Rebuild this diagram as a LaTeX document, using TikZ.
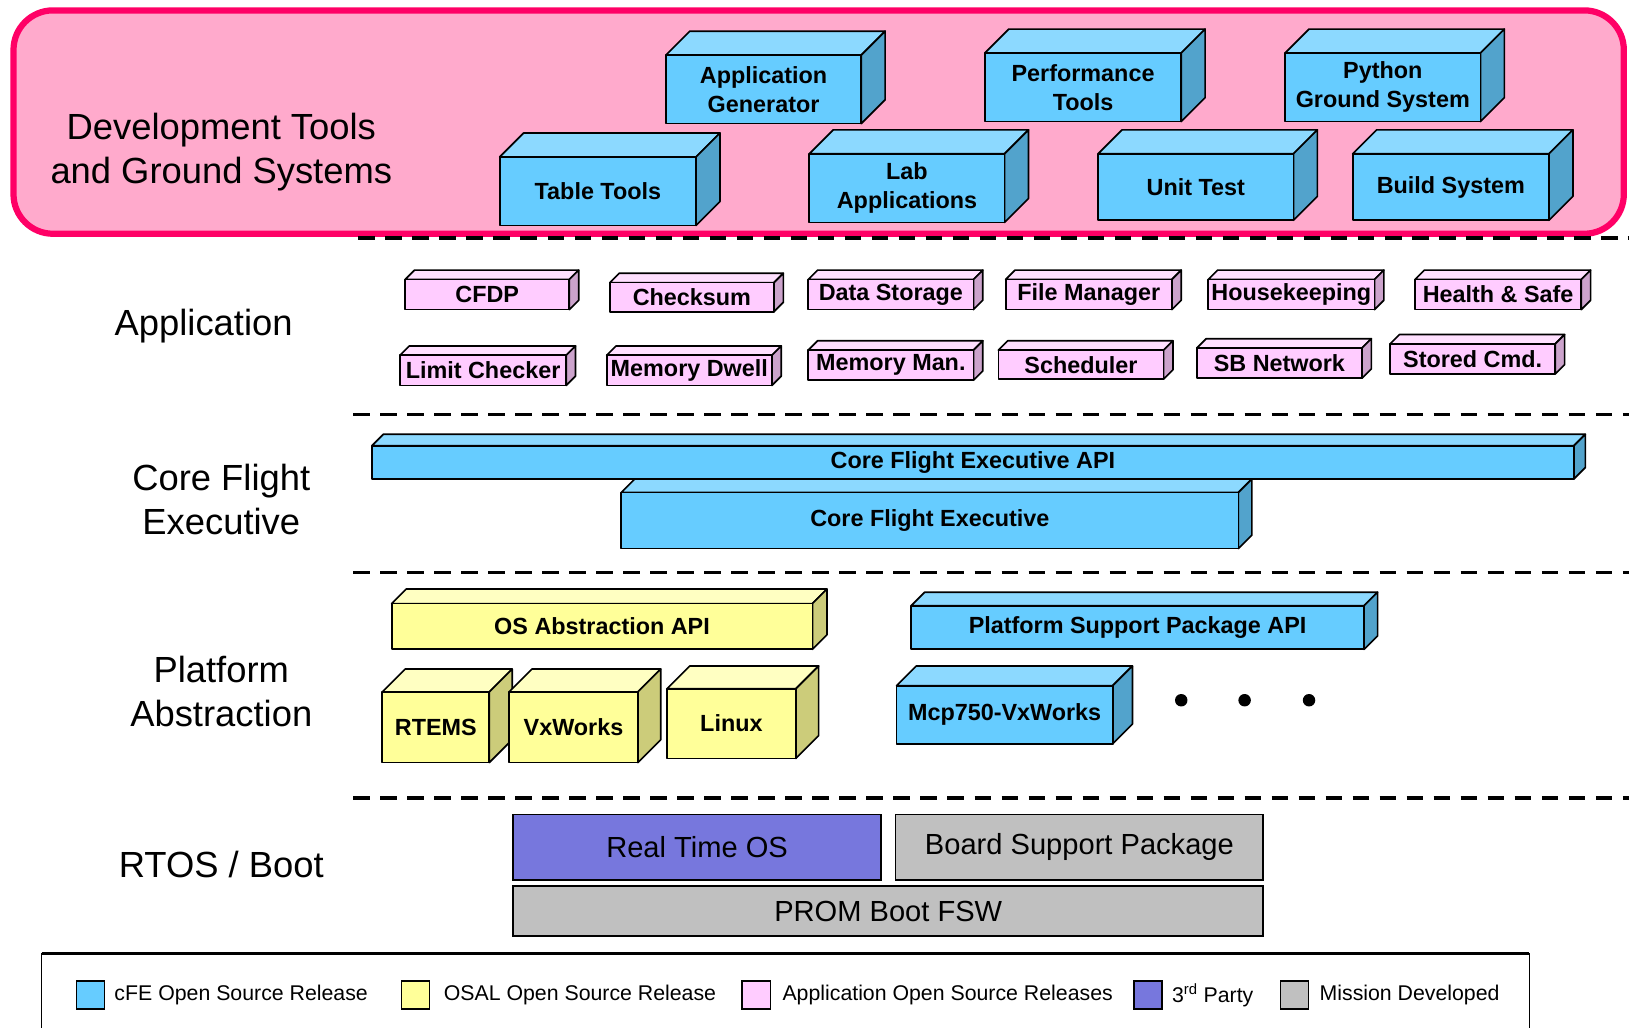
\documentclass[tikz,border=0pt]{standalone}
\usepackage{fontspec}
\setmainfont{Liberation Sans}
\usetikzlibrary{fit}

\definecolor{devfill}{HTML}{FFAACC}
\definecolor{devline}{HTML}{FF0066}
\definecolor{cfefront}{HTML}{66CCFF}
\definecolor{cfetopc}{HTML}{8CD9FF}
\definecolor{cfesidec}{HTML}{52A3CC}
\definecolor{osalfront}{HTML}{FFFF99}
\definecolor{osaltopc}{HTML}{FFFFC2}
\definecolor{osalsidec}{HTML}{CCCC7A}
\definecolor{appfront}{HTML}{FFCCFF}
\definecolor{apptopc}{HTML}{FFE0FF}
\definecolor{appsidec}{HTML}{CCA3CC}
\definecolor{thirdparty}{HTML}{7777DD}
\definecolor{missiondev}{HTML}{C0C0C0}

\tikzset{
  face/.style={draw=black, line width=1.6pt, line join=round},
  bluetop/.style={face, fill=cfetopc},
  blueside/.style={face, fill=cfesidec},
  bluefront/.style={face, fill=cfefront, inner sep=0pt, outer sep=0pt},
  yellowtop/.style={face, fill=osaltopc},
  yellowside/.style={face, fill=osalsidec},
  yellowfront/.style={face, fill=osalfront, inner sep=0pt, outer sep=0pt},
  pinktop/.style={face, fill=apptopc},
  pinkside/.style={face, fill=appsidec},
  pinkfront/.style={face, fill=appfront, inner sep=0pt, outer sep=0pt},
  boxtext/.style={align=center, inner sep=0pt, font=\bfseries\fontsize{22.5}{28}\selectfont},
  flatbox/.style={draw=black, line width=1.6pt, inner sep=0pt, outer sep=0pt},
  flattext/.style={inner sep=0pt, font=\fontsize{28}{32}\selectfont},
  layerlabel/.style={align=center, font=\fontsize{35}{42.5}\selectfont},
  divider/.style={line width=3.5pt, dash pattern=on 16pt off 10pt},
  swatch/.style={draw=black, line width=1.6pt, minimum width=27pt, minimum height=27pt,
                 inner sep=0pt},
  legendtext/.style={anchor=west, inner sep=0pt, font=\fontsize{20.5}{24}\selectfont},
  dotmark/.style={circle, fill=black, minimum size=12pt, inner sep=0pt},
}

% #1 name, #2 colour family, (#3,#4) front top-left, (#5,#6) front bottom-right,
% #7 depth of the block, #8 label
\newcommand\tdbox[8]{%
  \filldraw[#2top] (#3,#4) -- (#3+#7,#4-#7) -- (#5+#7,#4-#7) -- (#5,#4) -- cycle;
  \filldraw[#2side] (#5,#4) -- (#5+#7,#4-#7) -- (#5+#7,#6-#7) -- (#5,#6) -- cycle;
  \node[#2front, fit={(#3,#4) (#5,#6)}] (#1) {};
  \node[boxtext] (#1text) at (#1.center) {#8};
}

% flat block with a centred label
\newcommand\flatblock[7]{%
  \node[flatbox, fill=#2, fit={(#3,#4) (#5,#6)}] (#1) {};
  \node[flattext] (#1text) at (#1.center) {#7};
}

\begin{document}
\begin{tikzpicture}[x=1pt, y=-1pt]
\useasboundingbox (0,0) rectangle (1568,989);
\fill[white] (0,0) rectangle (1568,989);

% development tools and ground systems band
\draw[line width=6pt, draw=devline, fill=devfill, rounded corners=38pt]
  (13,10) rectangle (1563,225);
\node[layerlabel] (devlabel) at (213,146) {Development Tools\\and Ground Systems};

\tdbox{appgen}{blue}{641}{53}{829}{119}{23}{Application\\Generator}
\tdbox{perftools}{blue}{948}{51}{1137}{117}{23}{Performance\\Tools}
\tdbox{pyground}{blue}{1237}{51}{1425}{117}{23}{Python\\Ground System}
\tdbox{tabletools}{blue}{481}{151}{670}{217}{23}{Table Tools}
\tdbox{labapps}{blue}{779}{148}{967}{214}{23}{Lab\\Applications}
\tdbox{unittest}{blue}{1057}{148}{1245}{212}{23}{Unit Test}
\tdbox{buildsys}{blue}{1302}{148}{1491}{212}{23}{Build System}

% layer dividers
\draw[divider] (345,229) -- (1568,229);
\draw[divider] (340,399) -- (1568,399);
\draw[divider] (340,551) -- (1568,551);
\draw[divider] (340,768) -- (1568,768);

% application layer
\node[layerlabel] (applabel) at (196,314) {Application};
\tdbox{cfdp}{pink}{390}{269}{548}{298}{9}{CFDP}
\tdbox{checksum}{pink}{587}{272}{745}{300}{9}{Checksum}
\tdbox{datastore}{pink}{778}{269}{937}{298}{9}{Data Storage}
\tdbox{filemgr}{pink}{968}{269}{1128}{298}{9}{File Manager}
\tdbox{housekeep}{pink}{1163}{269}{1323}{298}{9}{Housekeeping}
\tdbox{healthsafe}{pink}{1362}{269}{1522}{298}{9}{Health \& Safe}
\tdbox{limitchk}{pink}{385}{342}{545}{371}{9}{Limit Checker}
\tdbox{memdwell}{pink}{584}{342}{743}{371}{9}{Memory Dwell}
\tdbox{memman}{pink}{778}{337}{937}{366}{9}{Memory Man.}
\tdbox{scheduler}{pink}{961}{337}{1120}{365}{9}{Scheduler}
\tdbox{sbnet}{pink}{1152}{335}{1311}{364}{9}{SB Network}
\tdbox{storedcmd}{pink}{1338}{331}{1497}{360}{9}{Stored Cmd.}

% core flight executive layer
\node[layerlabel] (cfelabel) at (213,481) {Core Flight\\Executive};
\tdbox{cfeapi}{blue}{358}{429}{1515}{461}{11}{Core Flight Executive API}
\tdbox{cfecore}{blue}{598}{474}{1192}{528}{13}{Core Flight Executive}

% platform abstraction layer
\node[layerlabel] (platlabel) at (213,666) {Platform\\Abstraction};
\tdbox{osalapi}{yellow}{377}{581}{782}{625}{14}{OS Abstraction API}
\tdbox{rtems}{yellow}{368}{666}{471}{734}{22}{RTEMS}
\tdbox{vxworks}{yellow}{490}{666}{614}{734}{22}{VxWorks}
\tdbox{linux}{yellow}{642}{663}{766}{730}{22}{Linux}
\tdbox{pspapi}{blue}{877}{583}{1313}{625}{13}{Platform Support Package API}
\tdbox{mcp}{blue}{863}{660}{1071}{716}{19}{Mcp750-VxWorks}
\node[dotmark] (dotA) at (1137,674) {};
\node[dotmark] (dotB) at (1198,674) {};
\node[dotmark] (dotC) at (1260,674) {};

% rtos / boot layer
\node[layerlabel] (rtoslabel) at (213,832) {RTOS / Boot};
\flatblock{rtos}{thirdparty}{494}{784}{848}{847}{Real Time OS}
\flatblock{bsp}{missiondev}{862}{784}{1216}{847}{Board Support Package}
\flatblock{prom}{missiondev}{494}{853}{1216}{901}{PROM Boot FSW}

% legend
\draw[line width=1.4pt] (40,995) -- (40,918) -- (1472,918) -- (1472,995);
\draw[line width=2.6pt] (40,918) -- (1472,918);
\node[swatch, fill=cfefront] (keycfe) at (87,958) {};
\node[legendtext] (keycfetext) at (110,958) {cFE Open Source Release};
\node[swatch, fill=osalfront] (keyosal) at (400,958) {};
\node[legendtext] (keyosaltext) at (427,958) {OSAL Open Source Release};
\node[swatch, fill=appfront] (keyapp) at (728,958) {};
\node[legendtext] (keyapptext) at (753,958) {Application Open Source Releases};
\node[swatch, fill=thirdparty] (key3rd) at (1105,958) {};
\node[legendtext] (key3rdtext) at (1128,958) {3\textsuperscript{rd} Party};
\node[swatch, fill=missiondev] (keymis) at (1246,958) {};
\node[legendtext] (keymistext) at (1270,958) {Mission Developed};
\end{tikzpicture}
\end{document}
